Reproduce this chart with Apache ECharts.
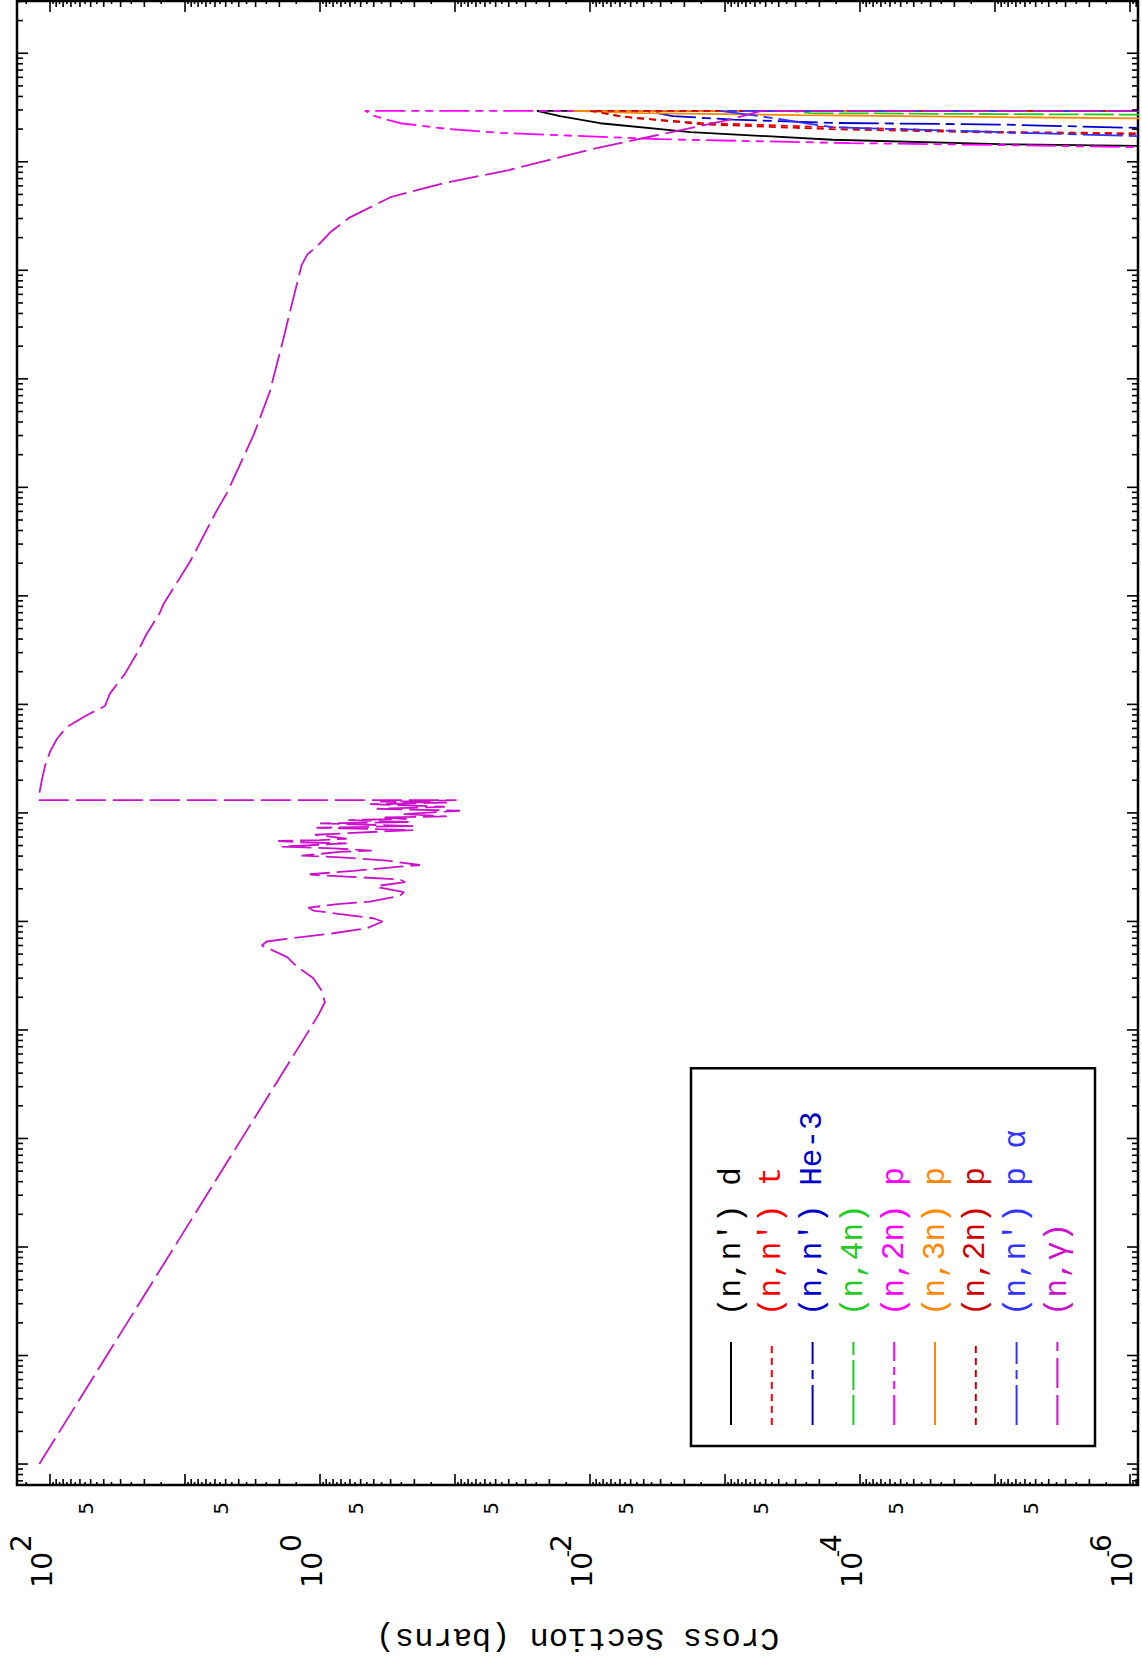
<!DOCTYPE html>
<html><head><meta charset="utf-8">
<script src="https://cdn.jsdelivr.net/npm/echarts@6/dist/echarts.min.js"></script>
<style>
html,body{margin:0;padding:0;background:#fff;overflow:hidden;width:1142px;height:1661px;}
#chart{position:absolute;left:0;top:0;width:1661px;height:1142px;transform-origin:0 0;transform:translateY(1661px) rotate(-90deg);background:#fff;}
</style></head><body><div id="chart"></div>
<script>
// ---- axis ranges ----
const energyMin = 6.41e-6, energyMax = 3.03e8;     // eV
const sigmaMin = 8.725e-7, sigmaMax = 175.6;        // barns

// ---- tick labels of the cross-section axis ----
const sigmaLabelValues = [100, 50, 5, 1, 0.5, 0.05, 0.01, 5e-3, 5e-4, 1e-4, 5e-5, 5e-6, 1e-6];
const sigmaLabelTexts  = ['10^2','5','5','10^0','5','5','10^-2','5','5','10^-4','5','5','10^-6'];
const sigmaMinorMantissas = [1.5,2,2.5,3,3.5,4,4.5,5,5.5,6,6.5,7,7.5,8,8.5,9,9.5];
const energyMinorMantissas = [2,3,4,5,6,7,8,9];

// ---- legend ----
const legendNames = ["(n,n') d","(n,n') t","(n,n') He-3","(n,4n)","(n,2n) p","(n,3n) p","(n,2n) p\u00a0","(n,n') p \u03b1","(n,\u03b3)"];
const lineColors  = ['#000000','#ff0000','#0000cc','#22cc22','#ff00ff','#ff8800','#cc0000','#3333ff','#cc11cc'];
const lineDashes  = ['solid',[7,5],[40,6,9,6],[30,5],[30,6,8,6,8,6],'solid',[7,5],[40,6,9,6],[30,7]];

// ---- data: energy (eV) and cross section (barns) ----
const nndEnergy = [1.39e7,1.40e7,1.452e7,1.596e7,1.875e7,2.265e7,2.63e7,2.95e7,2.95e7];
const nndSigma  = [4e-7,8.7e-7,9.2e-6,1.6e-4,1.8e-3,8.4e-3,1.67e-2,2.47e-2,1e-9];

const nntEnergy = [1.82e7,1.832e7,1.884e7,2.08e7,2.28e7,2.535e7,2.72e7,2.95e7,2.95e7];
const nntSigma  = [4e-7,8.7e-7,9.2e-6,1.6e-4,1.53e-3,4.8e-3,7.1e-3,8.4e-3,1e-9];

const nnHe3Energy = [2.04e7,2.05e7,2.203e7,2.28e7,2.45e7,2.63e7,2.95e7,2.95e7];
const nnHe3Sigma  = [4e-7,8.7e-7,9.2e-6,1.6e-4,8.7e-4,2.43e-3,3.9e-3,1e-9];

const n4nEnergy = [2.715e7,2.72e7,2.75e7,2.805e7,2.95e7,2.95e7];
const n4nSigma  = [4e-7,8.7e-7,9.2e-6,2.34e-4,3.3e-4,1e-9];

const n2npEnergy = [1.355e7,1.362e7,1.426e7,1.486e7,1.614e7,1.845e7,1.995e7,2.265e7,2.63e7,2.95e7,2.95e7];
const n2npSigma  = [4e-7,8.7e-7,9.2e-6,1.19e-4,3.03e-3,4.64e-2,0.109,0.255,0.392,0.464,1e-9];

const n3npEnergy = [2.50e7,2.506e7,2.58e7,2.69e7,2.805e7,2.95e7,2.95e7];
const n3npSigma  = [4e-7,8.7e-7,9.2e-6,2.78e-4,4.05e-3,1.34e-2,1e-9];

const n2np2Energy = [1.79e7,1.795e7,1.854e7,1.995e7,2.218e7,2.63e7,2.95e7,2.95e7];
const n2np2Sigma  = [4e-7,8.7e-7,9.2e-6,1.6e-4,1.53e-3,6.0e-3,1.0e-2,1e-9];

const nnpaEnergy = [1.715e7,1.722e7,1.875e7,2.08e7,2.63e7,2.95e7,2.95e7];
const nnpaSigma  = [4e-7,8.7e-7,9.2e-6,1.6e-4,5.5e-4,1.09e-3,1e-9];

const ngEnergy = [1e-5,1e-3,0.1,0.14,0.18,0.23,0.30,0.385,0.469,0.547,0.600,0.653,0.690,0.778,0.865,0.998,1.07,1.17,1.26,1.34,1.45,1.52,1.72,1.86,2.05,2.12,2.30,2.44,2.55,2.68,2.72,2.92,3.20,3.31,3.63,3.90,4.04,4.37,4.49,4.71,4.89,5.02,5.24,5.36,5.51,5.62,5.78,6.29,6.95,7.30,7.57,8.0,8.24,8.59,8.83,9.10,9.29,9.75,10.47,10.92,11.40,12.06,12.42,12.68,13.1,13.1,16.0,20.0,27.0,36.5,48.0,61.9,79.4,96.6,125.6,192,293,448,684,855,2094,6138,9057,30760,75340,231200,452900,1.109e6,1.40e6,1.667e6,2.24e6,3.04e6,4.76e6,6.37e6,8.34e6,1.306e7,1.746e7,2.443e7,2.95e7,2.95e7];
const ngSigma  = [120,12.0,1.20,1.02,0.92,0.97,1.12,1.49,1.75,2.28,2.70,2.48,1.77,0.796,0.451,0.344,0.403,0.711,1.12,1.22,0.711,0.427,0.256,0.239,0.360,0.380,0.234,0.256,0.506,1.12,1.19,0.566,0.256,0.182,0.321,0.711,1.37,0.711,0.414,0.796,1.92,1.26,0.635,1.41,2.04,1.0,0.635,1.09,0.204,1.06,0.204,1.0,0.215,0.617,0.228,0.349,0.115,0.248,0.0918,0.380,0.119,0.427,0.115,0.360,0.0973,120,119,115,109,100,89,75.2,53.5,39.2,36.0,27.8,22.8,19.2,15.5,14.3,9.12,5.81,4.85,3.09,2.36,1.87,1.64,1.37,1.24,1.05,0.84,0.610,0.296,0.120,0.0407,0.00964,0.00327,0.000923,0.00054,1e-9];

const seriesEnergy = [nndEnergy,nntEnergy,nnHe3Energy,n4nEnergy,n2npEnergy,n3npEnergy,n2np2Energy,nnpaEnergy,ngEnergy];
const seriesSigma  = [nndSigma,nntSigma,nnHe3Sigma,n4nSigma,n2npSigma,n3npSigma,n2np2Sigma,nnpaSigma,ngSigma];

// ---- build tick lists ----
const sigmaTicks = [];
for (let e = -7; e <= 2; e++) {
  sigmaTicks.push([Math.pow(10, e), 11]);
  sigmaMinorMantissas.forEach(m => sigmaTicks.push([m * Math.pow(10, e), Number.isInteger(m) ? 6 : 3]));
}
const energyTicks = [];
for (let e = -6; e <= 8; e++) {
  energyTicks.push([Math.pow(10, e), 11]);
  energyMinorMantissas.forEach(m => energyTicks.push([m * Math.pow(10, e), 6]));
}

const lineSeries = legendNames.map((name, i) => ({
  name: name, type: 'line', symbol: 'none', showSymbol: false, z: 2,
  lineStyle: {color: lineColors[i], width: 1.8, type: lineDashes[i]},
  itemStyle: {color: lineColors[i]},
  data: seriesEnergy[i].map((x, k) => [x, seriesSigma[i][k]])
}));

const tickStyle = {stroke: '#000', lineWidth: 1.6};

const sigmaTickSeries = {
  type: 'custom', coordinateSystem: 'cartesian2d', silent: true, clip: false, z: 4,
  data: sigmaTicks,
  renderItem: (params, api) => {
    const cs = params.coordSys;
    const y = api.coord([energyMin, api.value(0)])[1];
    if (y < cs.y - 0.5 || y > cs.y + cs.height + 0.5) return null;
    const len = api.value(1);
    return {type: 'group', children: [
      {type: 'line', shape: {x1: cs.x, y1: y, x2: cs.x + len, y2: y}, style: tickStyle},
      {type: 'line', shape: {x1: cs.x + cs.width - len, y1: y, x2: cs.x + cs.width, y2: y}, style: tickStyle}
    ]};
  }
};

const energyTickSeries = {
  type: 'custom', coordinateSystem: 'cartesian2d', silent: true, clip: false, z: 4,
  data: energyTicks,
  renderItem: (params, api) => {
    const cs = params.coordSys;
    const x = api.coord([api.value(0), sigmaMin])[0];
    if (x < cs.x - 0.5 || x > cs.x + cs.width + 0.5) return null;
    const len = api.value(1);
    return {type: 'group', children: [
      {type: 'line', shape: {x1: x, y1: cs.y, x2: x, y2: cs.y + len}, style: tickStyle},
      {type: 'line', shape: {x1: x, y1: cs.y + cs.height - len, x2: x, y2: cs.y + cs.height}, style: tickStyle}
    ]};
  }
};

const labelFont = '"DejaVu Sans", sans-serif';
const sigmaLabelSeries = {
  type: 'custom', coordinateSystem: 'cartesian2d', silent: true, clip: false, z: 4,
  data: sigmaLabelValues.map((v, i) => [v, i]),
  renderItem: (params, api) => {
    const cs = params.coordSys;
    const idx = api.value(1);
    const y = api.coord([energyMin, api.value(0)])[1];
    const t = sigmaLabelTexts[idx];
    if (t.indexOf('^') < 0) {
      return {type: 'text', x: cs.x - 17, y: y - 5,
        style: {text: t, fontSize: 20, fontFamily: labelFont, fill: '#000', align: 'right', verticalAlign: 'middle'}};
    }
    const parts = t.split('^');
    const exp = parts[1];
    const neg = exp.charAt(0) === '-';
    const digit = neg ? exp.slice(1) : exp;
    const ch = [
      {type: 'text', x: cs.x - 67, y: y - 8,
        style: {text: parts[0], fontSize: 28, fontFamily: labelFont, fill: '#000', align: 'right', verticalAlign: 'middle'}},
      {type: 'text', x: cs.x - 67, y: y - 29,
        style: {text: digit, fontSize: 28, fontFamily: labelFont, fill: '#000', align: 'left', verticalAlign: 'middle'}}
    ];
    if (neg) ch.push({type: 'text', x: cs.x - 65, y: y - 23,
        style: {text: '-', fontSize: 20, fontFamily: labelFont, fill: '#000', align: 'right', verticalAlign: 'middle'}});
    return {type: 'group', children: ch};
  }
};

const chart = echarts.init(document.getElementById('chart'), null, {renderer: 'svg', width: 1661, height: 1142});
chart.setOption({
  animation: false,
  backgroundColor: '#fff',
  grid: {left: 175, right: 1, top: 17, bottom: 4, show: true, borderColor: '#000', borderWidth: 2.5, backgroundColor: 'transparent'},
  xAxis: {type: 'log', logBase: 10, min: energyMin, max: energyMax,
    axisLine: {show: false}, axisTick: {show: false}, axisLabel: {show: false}, splitLine: {show: false}},
  yAxis: {type: 'log', logBase: 10, min: sigmaMin, max: sigmaMax,
    name: 'Cross Section (barns)', nameLocation: 'middle', nameRotate: 90, nameGap: 136,
    nameTextStyle: {fontFamily: '"Liberation Mono", monospace', fontSize: 32, color: '#000'},
    axisLine: {show: false}, axisTick: {show: false}, axisLabel: {show: false}, splitLine: {show: false}},
  legend: {
    orient: 'vertical', left: 215, top: 691, selectedMode: false, z: 10,
    data: legendNames.map((n, i) => ({name: n, textStyle: {color: lineColors[i]}})),
    itemWidth: 83, itemHeight: 14, itemGap: 8.8,
    itemStyle: {opacity: 0},
    padding: [24, 43, 21.6, 20], borderColor: '#000', borderWidth: 2.5, backgroundColor: '#fff',
    textStyle: {fontFamily: '"Liberation Mono", monospace', fontSize: 31, lineHeight: 32, padding: [0, 0, 0, 21]}
  },
  series: lineSeries.concat([sigmaTickSeries, energyTickSeries, sigmaLabelSeries])
});
</script></body></html>
